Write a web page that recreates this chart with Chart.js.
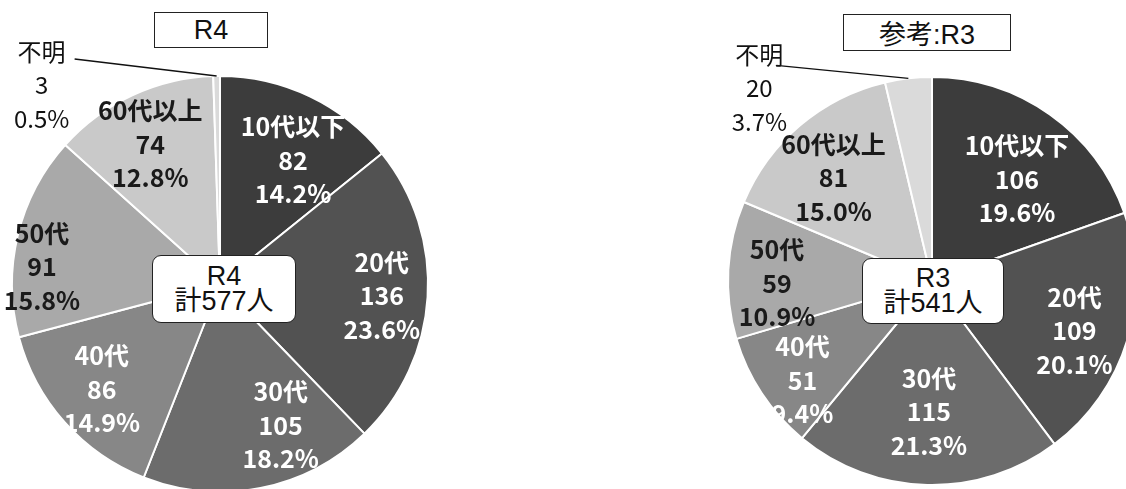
<!DOCTYPE html>
<html>
<head>
<meta charset="utf-8">
<script src="https://cdn.jsdelivr.net/npm/chart.js@4"></script>
<style>
  html, body { margin:0; padding:0; background:#fff; width:1126px; height:489px; overflow:hidden; position:relative; }
  canvas { position:absolute; top:0; }
  .title { position:absolute; box-sizing:border-box; border:1.5px solid #222; background:#fff;
           font-family:"Liberation Sans","Noto Sans CJK JP",sans-serif; font-size:27px; color:#111;
           display:flex; align-items:center; justify-content:center; }
  .total { position:absolute; box-sizing:border-box; border:1.5px solid #222; border-radius:9px; background:#fff;
           font-family:"Liberation Sans","Noto Sans CJK JP",sans-serif; font-size:27px; line-height:25px; color:#111;
           display:flex; flex-direction:column; align-items:center; justify-content:center; }
</style>
</head>
<body>
<canvas id="pieR4" width="440" height="568" style="left:0px"></canvas>
<canvas id="pieR3" width="440" height="562" style="left:712px"></canvas>

<div class="title" style="left:154px;top:12px;width:114px;height:36px">R4</div>
<div class="title" style="left:843px;top:14px;width:168px;height:37px">参考:R3</div>
<div class="total" id="totR4" style="left:152px;top:255px;width:144px;height:68px"></div>
<div class="total" id="totR3" style="left:862px;top:258px;width:142px;height:66px"></div>

<script>
// age groups, clockwise from 12 o'clock
const categories = ['10代以下', '20代', '30代', '40代', '50代', '60代以上', '不明'];
const valuesR4 = [82, 136, 105, 86, 91, 74, 3];
const valuesR3 = [106, 109, 115, 51, 59, 81, 20];

const sliceColors = ['#3c3c3c', '#525252', '#6c6c6c', '#878787', '#a9a9a9', '#c9c9c9', '#dadada'];
const textColors  = ['#fff', '#fff', '#fff', '#fff', '#1a1a1a', '#1a1a1a', '#111'];

const sum = arr => arr.reduce((a, b) => a + b, 0);

// label placement per slice: [fraction of radius, angle nudge in degrees]
const placeR4 = [[0.69, 5], [0.78, 0.6], [0.74, -12], [0.76, 0], [0.86, -8], [0.75, -1.6]];
const placeR3 = [[0.65, 4.6], [0.74, 2.5], [0.64, 0], [0.80, -4], [0.76, -4], [0.70, -3.3]];

// the small "不明" slice gets an outside label with a leader line
const outsideR4 = { dx: -175, dy: 9, lineFrom: [33, -26] };
const outsideR3 = { dx: -149, dy: 10, lineFrom: [17, -23] };

const sliceLabels = {
  id: 'sliceLabels',
  afterDatasetsDraw(chart, args, opts) {
    const ctx = chart.ctx;
    const meta = chart.getDatasetMeta(0);
    const data = chart.data.datasets[0].data;
    const total = sum(data);
    const lh = 33.5;
    ctx.save();
    ctx.textAlign = 'center';
    ctx.textBaseline = 'middle';
    meta.data.forEach((arc, i) => {
      const p = arc.getProps(['x', 'y', 'startAngle', 'endAngle', 'outerRadius'], true);
      const lines = [chart.data.labels[i], String(data[i]), (data[i] / total * 100).toFixed(1) + '%'];
      let mid = (p.startAngle + p.endAngle) / 2;
      let lx, ly;
      if (i < opts.place.length) {
        const [frac, nudge] = opts.place[i];
        mid += nudge * Math.PI / 180;
        lx = p.x + Math.cos(mid) * p.outerRadius * frac;
        ly = p.y + Math.sin(mid) * p.outerRadius * frac;
        ctx.font = 'bold 25px "Noto Sans CJK JP", sans-serif';
      } else {
        const ox = p.x + Math.cos(mid) * p.outerRadius;
        const oy = p.y + Math.sin(mid) * p.outerRadius;
        lx = ox + opts.outside.dx;
        ly = oy + opts.outside.dy;
        ctx.strokeStyle = '#111';
        ctx.lineWidth = 1.5;
        ctx.beginPath();
        ctx.moveTo(lx + opts.outside.lineFrom[0], ly + opts.outside.lineFrom[1]);
        ctx.lineTo(ox, oy);
        ctx.stroke();
        ctx.font = '24px "Noto Sans CJK JP", sans-serif';
      }
      ctx.fillStyle = textColors[i];
      lines.forEach((t, k) => ctx.fillText(t, lx, ly + (k - 1) * lh));
    });
    ctx.restore();
  }
};

function makePie(id, values, radius, place, outside) {
  return new Chart(document.getElementById(id), {
    type: 'pie',
    data: {
      labels: categories,
      datasets: [{
        data: values,
        backgroundColor: sliceColors,
        borderColor: '#ffffff',
        borderWidth: 2
      }]
    },
    options: {
      responsive: false,
      animation: false,
      radius: radius,
      layout: { padding: 0 },
      plugins: {
        legend: { display: false },
        tooltip: { enabled: false },
        sliceLabels: { place: place, outside: outside }
      }
    },
    plugins: [sliceLabels]
  });
}

makePie('pieR4', valuesR4, 208, placeR4, outsideR4);
makePie('pieR3', valuesR3, 204, placeR3, outsideR3);

document.getElementById('totR4').innerHTML = '<div>R4</div><div>計' + sum(valuesR4) + '人</div>';
document.getElementById('totR3').innerHTML = '<div>R3</div><div>計' + sum(valuesR3) + '人</div>';
</script>
</body>
</html>
